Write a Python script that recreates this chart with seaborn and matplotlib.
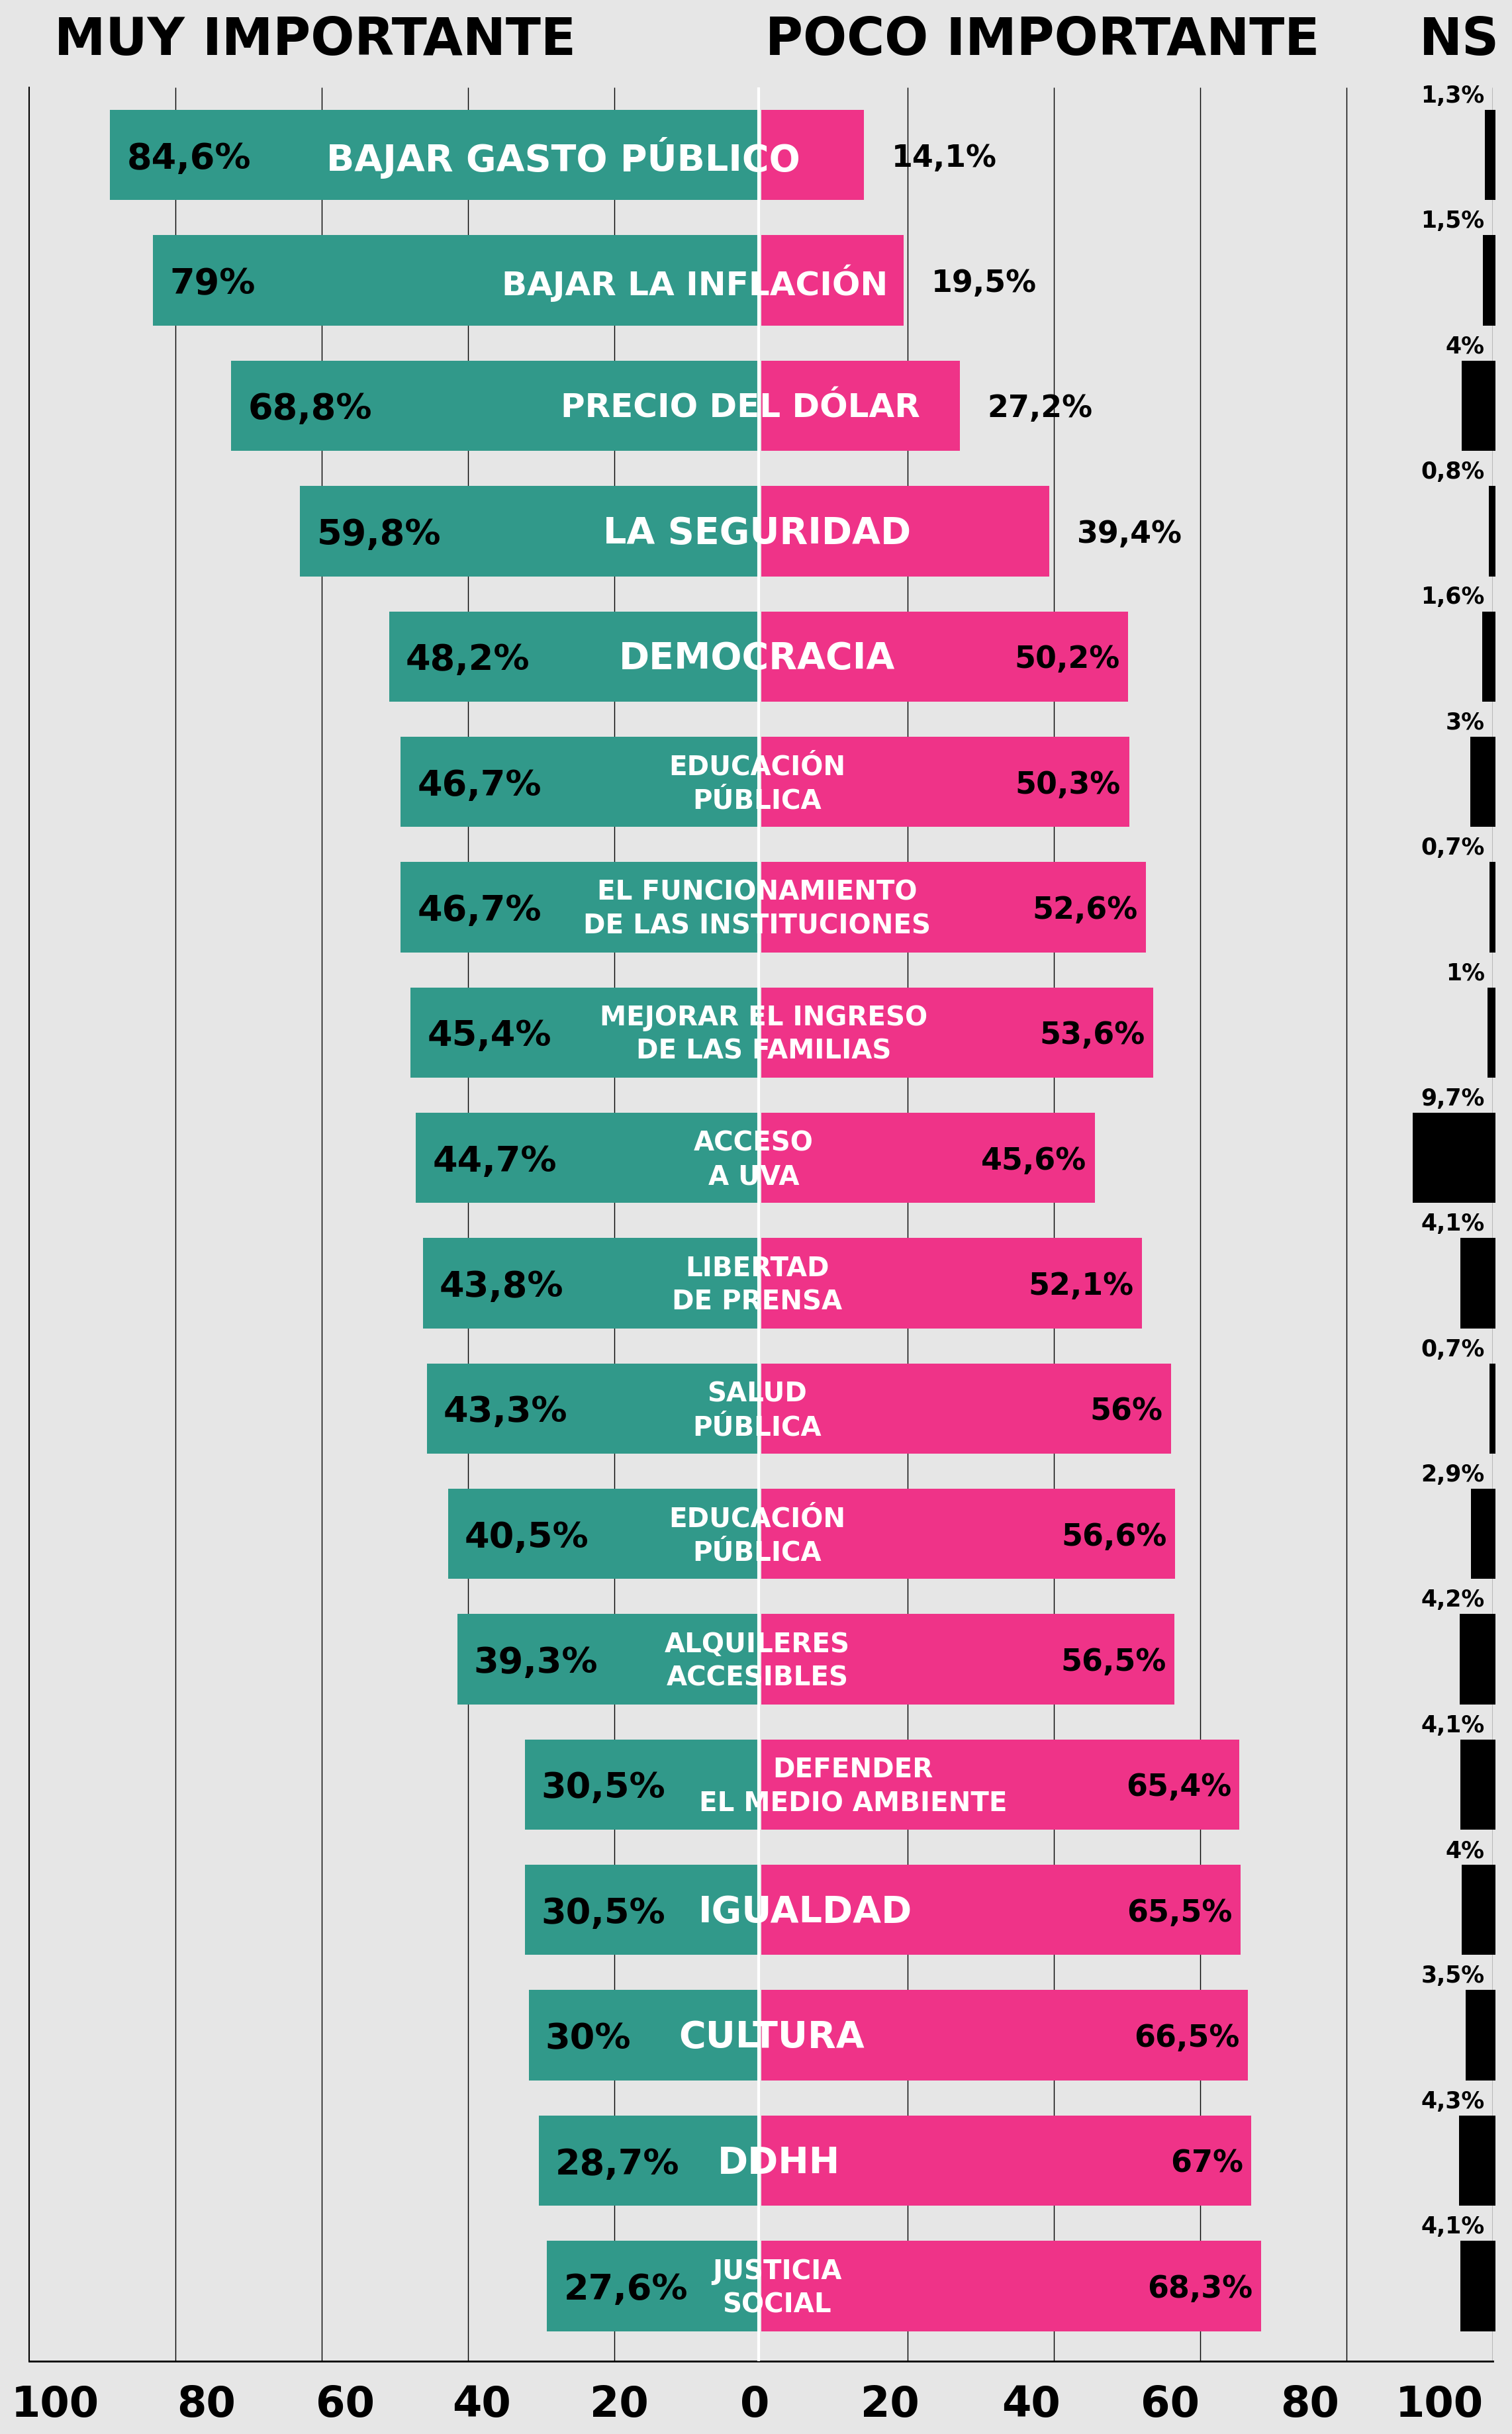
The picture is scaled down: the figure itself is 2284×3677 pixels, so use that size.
import pandas as pd
import matplotlib.pyplot as plt
import seaborn as sns

# Datos de la encuesta
categorias = ["BAJAR GASTO PÚBLICO", "BAJAR LA INFLACIÓN", "PRECIO DEL DÓLAR",
              "LA SEGURIDAD", "DEMOCRACIA", "EDUCACIÓN\nPÚBLICA",
              "EL FUNCIONAMIENTO\nDE LAS INSTITUCIONES",
              "MEJORAR EL INGRESO\nDE LAS FAMILIAS", "ACCESO\nA UVA",
              "LIBERTAD\nDE PRENSA", "SALUD\nPÚBLICA", "EDUCACIÓN\nPÚBLICA",
              "ALQUILERES\nACCESIBLES", "DEFENDER\nEL MEDIO AMBIENTE",
              "IGUALDAD", "CULTURA", "DDHH", "JUSTICIA\nSOCIAL"]
muy = [84.6, 79, 68.8, 59.8, 48.2, 46.7, 46.7, 45.4, 44.7, 43.8, 43.3, 40.5,
       39.3, 30.5, 30.5, 30, 28.7, 27.6]
poco = [14.1, 19.5, 27.2, 39.4, 50.2, 50.3, 52.6, 53.6, 45.6, 52.1, 56, 56.6,
        56.5, 65.4, 65.5, 66.5, 67, 68.3]
ns = [1.3, 1.5, 4, 0.8, 1.6, 3, 0.7, 1, 9.7, 4.1, 0.7, 2.9, 4.2, 4.1, 4, 3.5,
      4.3, 4.1]

grid_vals = [-80, -60, -40, -20, 20, 40, 60, 80, 100]
tick_lab = ['100', '80', '60', '40', '20', '0', '20', '40', '60', '80', '100']

# layout (no son datos)
tick_pos = [-96.4, -75.8, -56.8, -38.2, -19.4, -0.8, 17.6, 36.9, 55.9, 75.0, 92.7]
label_x = [-27, -9, -2.8, -0.5, -0.5, -0.5, -0.5, 0.4, -1.0, -0.5, -0.5, -0.5,
           -0.5, 12.6, 6.1, 1.5, 2.4, 2.2]
cat_size = [40, 36, 36, 40, 40] + [29] * 9 + [40, 40, 40, 29]

TEAL = '#31998a'
PINK = '#ef3388'
BG = '#e6e6e6'

plt.rcParams['font.family'] = ['DejaVu Sans']
plt.rcParams['font.weight'] = 'bold'

df = pd.DataFrame({'pos': range(len(muy)), 'muy': muy, 'poco': poco, 'ns': ns})
df['neg'] = -df['muy']


def fmt(v):
    return f'{v:g}'.replace('.', ',') + '%'


fig = plt.figure(figsize=(22.84, 36.77), dpi=100, facecolor=BG)
rect = [44 / 2284, 110 / 3677, 2211 / 2284, 3435 / 3677]
ax = fig.add_axes(rect)
ax_l = fig.add_axes(rect)
ax_ns = fig.add_axes([44 / 2284, 110 / 3677, 2218 / 2284, 3435 / 3677])
ylim = (17.6, -0.54)

# eje principal: grilla + poco importante
sns.barplot(data=df, x='poco', y='pos', orient='h', color=PINK, width=0.72,
            saturation=1, errorbar=None, linewidth=0, zorder=3, ax=ax)
ax.set_facecolor('none')
ax.set_xlim(-100, 100)
ax.set_ylim(*ylim)
ax.vlines(grid_vals, ylim[0], ylim[1], color='black', lw=1, zorder=1)
ax.spines[['top', 'right']].set_visible(False)
ax.spines['left'].set_linewidth(1.5)
ax.spines['bottom'].set_linewidth(2)
ax.set_yticks([])
ax.set_xticks(tick_pos, tick_lab, fontsize=46, fontweight='bold')
ax.tick_params(axis='x', length=0, pad=25)
ax.set_xlabel('')
ax.set_ylabel('')

# muy importante (escala propia)
sns.barplot(data=df, x='neg', y='pos', orient='h', color=TEAL, width=0.72,
            saturation=1, errorbar=None, linewidth=0, ax=ax_l)
ax_l.set_xlim(-95.16, 95.77)
ax_l.set_ylim(*ylim)
ax_l.axvline(0, color='white', lw=3)
ax_l.axis('off')

for i in range(len(muy)):
    ax_l.annotate(fmt(muy[i]), (-muy[i], i), xytext=(18, 0),
                  textcoords='offset points', ha='left', va='center_baseline',
                  fontsize=39, fontweight='bold', color='black')
    ax_l.text(label_x[i], i + 0.02, categorias[i], transform=ax.transData,
              ha='center', va='center', multialignment='center',
              fontsize=cat_size[i], fontweight='bold', color='white',
              linespacing=1.35)
    if poco[i] < 45:
        ax_l.annotate(fmt(poco[i]), (poco[i], i), xycoords=ax.transData,
                      xytext=(30, 0), textcoords='offset points', ha='left',
                      va='center_baseline', fontsize=33, fontweight='bold')
    else:
        ax_l.annotate(fmt(poco[i]), (poco[i], i), xycoords=ax.transData,
                      xytext=(-9, 0), textcoords='offset points', ha='right',
                      va='center_baseline', fontsize=33, fontweight='bold')

# NS
sns.barplot(data=df, x='ns', y='pos', orient='h', color='black', width=0.72,
            saturation=1, errorbar=None, linewidth=0, ax=ax_ns)
ax_ns.set_xlim(171.6, -0.2)
ax_ns.set_ylim(*ylim)
ax_ns.axis('off')
for i in range(len(ns)):
    ax_ns.text(1.3, i - 0.49, fmt(ns[i]), ha='right', va='center_baseline',
               fontsize=25, fontweight='bold')

fig.text(82 / 2284, 1 - 83 / 3677, 'MUY IMPORTANTE', fontsize=56,
         fontweight='bold', ha='left', va='baseline')
fig.text(1156 / 2284, 1 - 83 / 3677, 'POCO IMPORTANTE', fontsize=56,
         fontweight='bold', ha='left', va='baseline')
fig.text(2265 / 2284, 1 - 83 / 3677, 'NS', fontsize=56,
         fontweight='bold', ha='right', va='baseline')

fig.savefig('out.png', dpi=100, facecolor=BG)
